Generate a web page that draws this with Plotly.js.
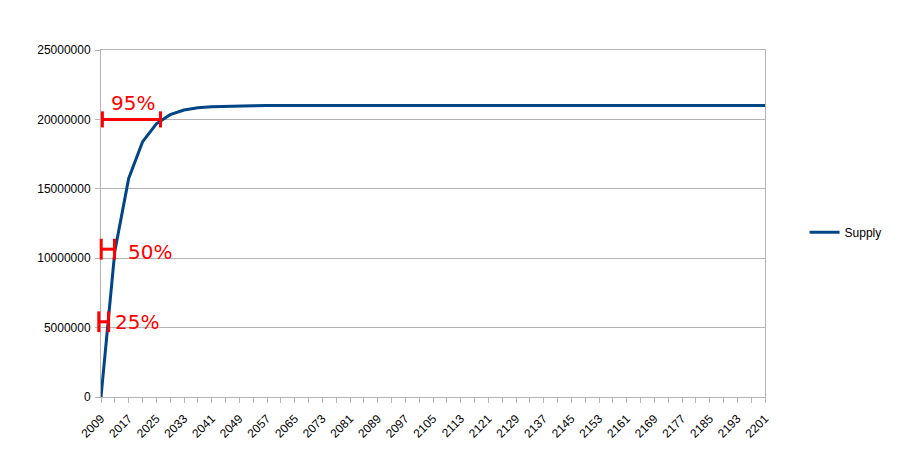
<!DOCTYPE html>
<html>
<head>
<meta charset="utf-8">
<script src="https://cdn.plot.ly/plotly-3.0.1.min.js"></script>
<style>html,body{margin:0;padding:0;background:#fff;}#chart{width:897px;height:462px;}</style>
</head>
<body>
<div id="chart"></div>
<script>
// Years (start of each 4-year halving period)
var years = [2009,2013,2017,2021,2025,2029,2033,2037,2041,2045,2049,2053,2057,2061,2065,2069,2073,2077,2081,2085,2089,2093,2097,2101,2105,2109,2113,2117,2121,2125,2129,2133,2137,2141,2145,2149,2153,2157,2161,2165,2169,2173,2177,2181,2185,2189,2193,2197,2201];
var supply = [0,10500000,15750000,18375000,19687500,20343750,20671875,20835938,20917969,20958984,20979492,20989746,20994873,20997437,20998718,20999359,20999680,20999840,20999920,20999960,20999980,20999990,20999995,20999997,20999999,21000000,21000000,21000000,21000000,21000000,21000000,21000000,21000000,21000000,21000000,21000000,21000000,21000000,21000000,21000000,21000000,21000000,21000000,21000000,21000000,21000000,21000000,21000000,21000000];

// Percentage markers
var markerLabels = ["95%", "50%", "25%"];
var markerStart = [2009.4, 2009.06, 2008.36];
var markerEnd = [2026.2, 2012.9, 2011.2];
var markerLevel = [20000000, 10650000, 5420000];
var markerCap = [580000, 750000, 750000];
var labelYear = [2018.2, 2023.15, 2019.5];
var labelLevel = [21200000, 10480000, 5430000];

var xMin = 2009, xMax = 2201, yMin = 0, yMax = 25000000;
function px(v){ return (v - xMin) / (xMax - xMin); }
function py(v){ return (v - yMin) / (yMax - yMin); }

var red = '#ff0000';
var shapes = [];
var annotations = [];
for (var i = 0; i < markerLabels.length; i++) {
  var ln = {color: red, width: 3};
  shapes.push({type:'line', xref:'paper', yref:'paper', x0:px(markerStart[i]), x1:px(markerEnd[i]), y0:py(markerLevel[i]), y1:py(markerLevel[i]), line:ln});
  shapes.push({type:'line', xref:'paper', yref:'paper', x0:px(markerStart[i]), x1:px(markerStart[i]), y0:py(markerLevel[i]-markerCap[i]), y1:py(markerLevel[i]+markerCap[i]), line:ln});
  shapes.push({type:'line', xref:'paper', yref:'paper', x0:px(markerEnd[i]), x1:px(markerEnd[i]), y0:py(markerLevel[i]-markerCap[i]), y1:py(markerLevel[i]+markerCap[i]), line:ln});
  annotations.push({xref:'x', yref:'y', x:labelYear[i], y:labelLevel[i], text:markerLabels[i], showarrow:false, xanchor:'center', yanchor:'middle', font:{family:'DejaVu Sans', size:20, color:red}});
}

var trace = {x: years, y: supply, type:'scatter', mode:'lines', name:'Supply', line:{color:'#004586', width:3}};

var layout = {
  width: 897, height: 462,
  margin: {l:101, r:131, t:50, b:65, pad:0},
  paper_bgcolor:'#fff', plot_bgcolor:'#fff',
  font: {family:'Liberation Sans, Arial, sans-serif', size:12, color:'#000'},
  showlegend: true,
  legend: {x:1.058, xanchor:'left', y:0.475, yanchor:'middle', font:{size:12, color:'#000'}, bgcolor:'rgba(0,0,0,0)'},
  xaxis: {
    type:'linear', range:[xMin, xMax], tick0:2009, dtick:8, tickangle:-45,
    tickformat:'d', showgrid:false, zeroline:false,
    showline:true, linecolor:'#b3b3b3', linewidth:1, mirror:true,
    ticks:'outside', ticklen:5, tickcolor:'#b3b3b3', ticklabelstandoff:4,
    minor:{tick0:2009, dtick:4, ticks:'outside', ticklen:5, tickcolor:'#b3b3b3', showgrid:false},
    tickfont:{size:12, color:'#000'}
  },
  yaxis: {
    range:[yMin, yMax], dtick:5000000, tickformat:'d',
    showgrid:true, gridcolor:'#b3b3b3', gridwidth:1, zeroline:false,
    showline:true, linecolor:'#b3b3b3', linewidth:1, mirror:true,
    ticks:'outside', ticklen:5, tickcolor:'#b3b3b3', ticklabelstandoff:2,
    tickfont:{size:12, color:'#000'}
  },
  shapes: shapes,
  annotations: annotations
};

Plotly.newPlot('chart', [trace], layout, {displayModeBar:false, staticPlot:true});
</script>
</body>
</html>
